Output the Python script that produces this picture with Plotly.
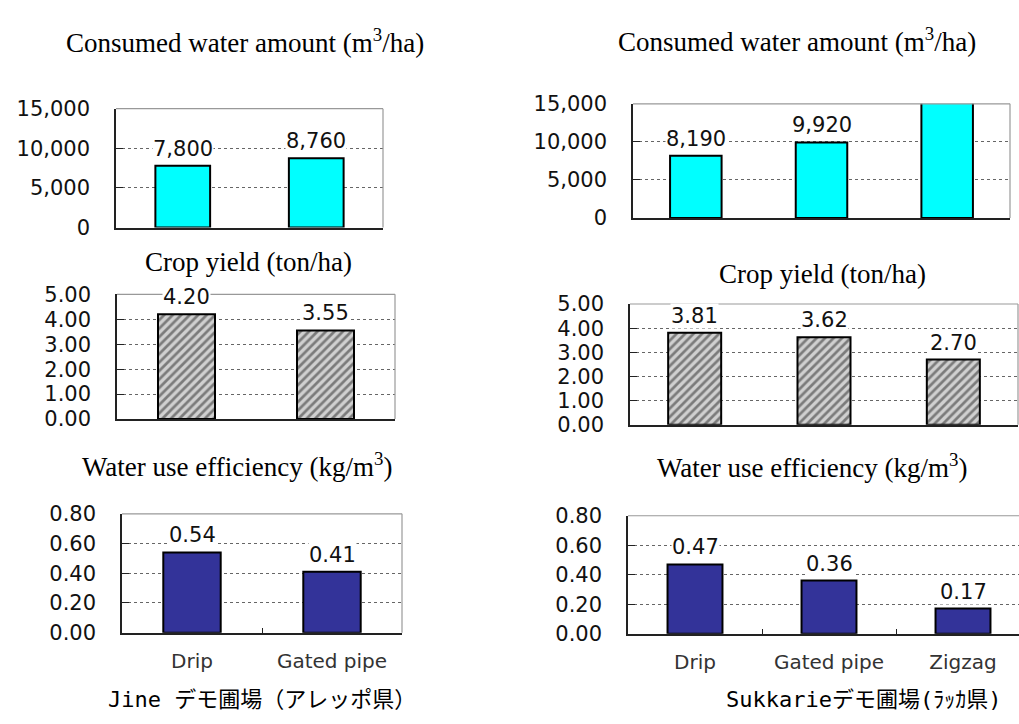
import plotly.graph_objects as go

# --- data -------------------------------------------------------------
jine_methods = ["Drip", "Gated pipe"]
sukkarie_methods = ["Drip", "Gated pipe", "Zigzag"]

jine_water = [7800, 8760]
sukkarie_water = [8190, 9920, 15600]

jine_yield = [4.20, 3.55]
sukkarie_yield = [3.81, 3.62, 2.70]

jine_wue = [0.54, 0.41]
sukkarie_wue = [0.47, 0.36, 0.17]

title_water = "Consumed water amount (m<sup>3</sup>/ha)"
title_yield = "Crop yield (ton/ha)"
title_wue = "Water use efficiency (kg/m<sup>3</sup>)"
caption_jine = "Jine デモ圃場（アレッポ県）"
caption_sukkarie = "Sukkarieデモ圃場(ﾗｯｶ県)"

# --- layout helpers ---------------------------------------------------
W, H = 1019, 724


def px_x(v):
    return v / W


def px_y(v):
    return 1 - v / H


SANS = "DejaVu Sans, Liberation Sans, Arial, sans-serif"
SERIF = "Liberation Serif, Times New Roman, serif"
CAPTION = "DejaVu Sans Mono, Noto Sans CJK JP, monospace"

CYAN = "#00ffff"
NAVY = "#333399"

# plot areas in pixels: x (left, right), y (top, bottom)
panels = [
    dict(x=(116, 383), y=(100, 223), yr=[0, 15000], dt=5000, fmt=",d", n=2),
    dict(x=(633, 1010), y=(95, 213), yr=[0, 15000], dt=5000, fmt=",d", n=3),
    dict(x=(117, 395), y=(292, 421), yr=[0, 5], dt=1, fmt=".2f", n=2),
    dict(x=(630, 1018), y=(302, 427), yr=[0, 5], dt=1, fmt=".2f", n=3),
    dict(x=(122, 402), y=(519, 642), yr=[0, 0.8], dt=0.2, fmt=".2f", n=2),
    dict(x=(628, 1019), y=(521, 643), yr=[0, 0.8], dt=0.2, fmt=".2f", n=3,
         xr=[-0.5, 2.5 - 11 / 134]),
]

series = [
    (jine_methods, jine_water, "water"),
    (sukkarie_methods, sukkarie_water, "water"),
    (jine_methods, jine_yield, "yield"),
    (sukkarie_methods, sukkarie_yield, "yield"),
    (jine_methods, jine_wue, "wue"),
    (sukkarie_methods, sukkarie_wue, "wue"),
]

fig = go.Figure()
annotations = []
shapes = []
layout = {}

for i, (panel, (cats, vals, kind)) in enumerate(zip(panels, series), start=1):
    xa = "x" if i == 1 else f"x{i}"
    ya = "y" if i == 1 else f"y{i}"
    xkey = "xaxis" if i == 1 else f"xaxis{i}"
    ykey = "yaxis" if i == 1 else f"yaxis{i}"

    if kind == "water":
        marker = dict(color=CYAN, line=dict(color="#000", width=2))
    elif kind == "yield":
        marker = dict(color="#d0d0d0", line=dict(color="#000", width=2),
                      pattern=dict(shape="/", fgcolor="#262626",
                                   bgcolor="#d0d0d0", size=6, solidity=0.45))
    else:
        marker = dict(color=NAVY, line=dict(color="#000", width=2))

    fig.add_trace(go.Bar(x=cats, y=vals, xaxis=xa, yaxis=ya, width=0.41,
                         marker=marker, showlegend=False, hoverinfo="skip"))

    # value labels above each bar
    for c, v in zip(cats, vals):
        txt = f"{v:,}" if kind == "water" else f"{v:.2f}"
        annotations.append(dict(
            x=c, y=v, xref=xa, yref=ya, text=txt, showarrow=False,
            yanchor="bottom", yshift=4, bgcolor="white", borderpad=0,
            font=dict(family=SANS, size=21, color="#111")))

    bottom = kind == "wue"
    xr = panel.get("xr", [-0.5, panel["n"] - 0.5])
    layout[xkey] = dict(
        domain=[px_x(panel["x"][0]), px_x(panel["x"][1])],
        anchor=ya, range=xr, type="category",
        showline=True, linecolor="#222", linewidth=1.5,
        showgrid=False, zeroline=False, fixedrange=True,
        showticklabels=bottom,
        ticks="inside" if bottom else "", tickson="boundaries",
        ticklen=5, tickcolor="#222",
        tickfont=dict(family=SANS, size=20, color="#333"),
        ticklabelstandoff=10,
    )
    layout[ykey] = dict(
        domain=[px_y(panel["y"][1]), px_y(panel["y"][0])],
        anchor=xa, range=panel["yr"], dtick=panel["dt"], tick0=0,
        tickformat=panel["fmt"],
        showline=True, linecolor="#222", linewidth=1.5,
        ticks="inside", ticklen=7, tickcolor="#222",
        showgrid=True, gridcolor="#666", griddash="dot", gridwidth=1,
        zeroline=False, fixedrange=True,
        tickfont=dict(family=SANS, size=21, color="#111"),
        ticklabelstandoff=20,
    )

    # light frame on top and right of each plot area
    shapes.append(dict(type="line", xref=f"{xa} domain", yref=f"{ya} domain",
                       x0=0, x1=1, y0=1, y1=1,
                       line=dict(color="#999", width=1.2)))
    if i != 6:
        shapes.append(dict(type="line", xref=f"{xa} domain",
                           yref=f"{ya} domain", x0=1, x1=1, y0=0, y1=1,
                           line=dict(color="#999", width=1.2)))

# chart titles and site captions (centre x, centre y in pixels)
text_items = [
    (title_water, 245, 30, SERIF, 27),
    (title_water, 797, 29, SERIF, 27),
    (title_yield, 248, 259, SERIF, 27),
    (title_yield, 822, 271, SERIF, 27),
    (title_wue, 237, 469, SERIF, 27),
    (title_wue, 812, 470, SERIF, 27),
    (caption_jine, 262, 711, CAPTION, 22),
    (caption_sukkarie, 863, 711, CAPTION, 22),
]
for txt, cx, cy, fam, sz in text_items:
    annotations.append(dict(
        x=px_x(cx), y=px_y(cy), xref="paper", yref="paper", text=txt,
        showarrow=False, xanchor="center", yanchor="middle",
        font=dict(family=fam, size=sz, color="#000")))

fig.update_layout(
    width=W, height=H,
    margin=dict(l=0, r=0, t=0, b=0),
    paper_bgcolor="white", plot_bgcolor="white",
    bargap=0.3, annotations=annotations, shapes=shapes,
    **layout,
)

fig.write_html("out.html", config={"displayModeBar": False})
